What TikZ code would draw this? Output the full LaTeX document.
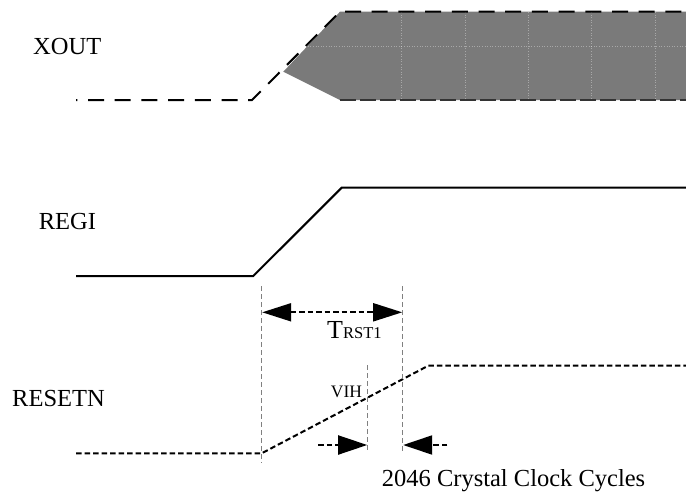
\documentclass[tikz,border=0pt]{standalone}
\usepackage{fontspec}
\setmainfont{Liberation Serif}
\usetikzlibrary{arrows.meta}
\begin{document}
\begin{tikzpicture}[x=1pt,y=-1pt,
  lbl/.style={inner sep=0pt,anchor=base west,font=\fontsize{24.5}{24.5}\selectfont},
  sig/.style={line width=2pt,black},
  bigdash/.style={dash pattern=on 16pt off 10.7pt,dash phase=-12pt},
  smalldash/.style={dash pattern=on 5.5pt off 3pt},
  guide/.style={line width=0.9pt,gray,dash pattern=on 5pt off 3pt},
  dimarrow/.style={line width=2pt,smalldash,-{Triangle[length=29pt,width=19pt]}},
  dimboth/.style={line width=2pt,smalldash,{Triangle[length=29pt,width=18pt]}-{Triangle[length=29pt,width=18pt]}}]
\useasboundingbox (0,0) rectangle (686,493);

% ---------- XOUT ----------
\coordinate (x0) at (76,100);
\coordinate (x1) at (252,100);
\coordinate (x2) at (340,11.7);
\coordinate (x3) at (686,11.7);
\coordinate (xb) at (283.3,71.7);
\coordinate (xc) at (340,100);
\coordinate (x4) at (686,100);
\fill[black!52] (xb) -- (x2) -- (x3) -- (x4) -- (xc) -- cycle;
\foreach \gx in {401.7,465,528,591.7,655}
  \draw[white,opacity=0.35,line width=0.6pt,dotted] (\gx,12) -- (\gx,99);
\draw[white,opacity=0.35,line width=0.6pt,dotted] (300,46.7) -- (686,46.7);
\draw[sig,bigdash] (x0) -- (x1) -- (x2) -- (x3);
\draw[line width=1.2pt,black!80,dash pattern=on 16pt off 4pt] (xc) -- (x4);
\node[lbl] (xout) at (33,54.3) {XOUT};

% ---------- REGI ----------
\coordinate (r0) at (76,276);
\coordinate (r1) at (253.3,276);
\coordinate (r2) at (341.7,187.7);
\coordinate (r3) at (686,187.7);
\draw[sig] (r0) -- (r1) -- (r2) -- (r3);
\node[lbl] (regi) at (38.6,229) {REGI};

% ---------- RESETN ----------
\coordinate (s0) at (76,453.3);
\coordinate (s1) at (261.7,453.3);
\coordinate (s2) at (428.3,365.7);
\coordinate (s3) at (686,365.7);
\draw[sig,smalldash] (s0) -- (s1) -- (s2) -- (s3);
\node[lbl] (resetn) at (12,406) {RESETN};

% ---------- guide lines ----------
\coordinate (g1t) at (261.7,286);
\coordinate (g1b) at (261.7,463);
\coordinate (g2t) at (402.7,286);
\coordinate (g2b) at (402.7,451.7);
\coordinate (g3t) at (367.7,365);
\coordinate (g3b) at (367.7,451.7);
\draw[guide] (g1t) -- (g1b);
\draw[guide] (g2t) -- (g2b);
\draw[guide] (g3t) -- (g3b);

% ---------- TRST1 ----------
\coordinate (t0) at (262.2,312.3);
\coordinate (t1) at (402.2,312.3);
\draw[dimboth] (t0) -- (t1);
\node[inner sep=0pt,anchor=base west] (trst) at (327,338.3)
  {\fontsize{26}{26}\selectfont T\fontsize{16.5}{16.5}\selectfont RST1};

% ---------- VIH ----------
\node[inner sep=0pt,anchor=base west,font=\fontsize{17.5}{17.5}\selectfont] (vih) at (330.7,397.7) {VIH};

% ---------- 2046 cycles ----------
\coordinate (a0) at (318.3,445);
\coordinate (a1) at (367.2,445);
\coordinate (b0) at (447.3,445);
\coordinate (b1) at (403.2,445);
\draw[dimarrow] (a0) -- (a1);
\draw[dimarrow] (b0) -- (b1);
\node[lbl] (cyc) at (381.7,486.7) {2046 Crystal Clock Cycles};
\end{tikzpicture}
\end{document}
